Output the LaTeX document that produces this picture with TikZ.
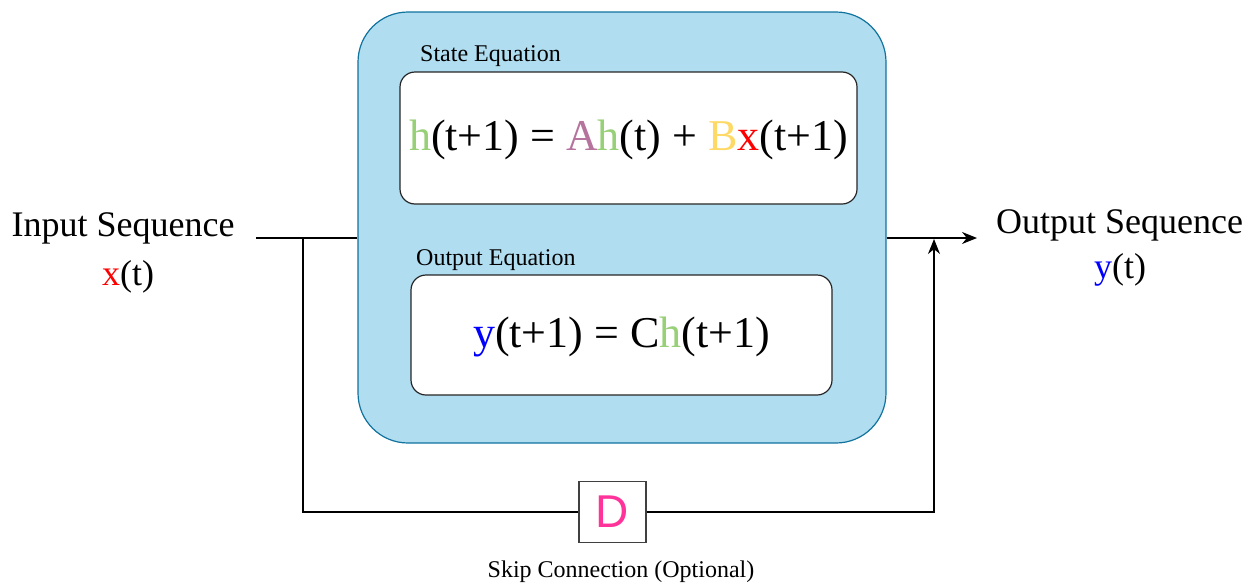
\documentclass[tikz,border=0pt]{standalone}
\usepackage{fontspec}
\setmainfont{Liberation Serif}
\newfontfamily\dfont{Liberation Sans}
\usetikzlibrary{arrows.meta,positioning}

\definecolor{hgreen}{HTML}{97D077}
\definecolor{apurple}{HTML}{B5739D}
\definecolor{byellow}{HTML}{FFD966}
\definecolor{xred}{HTML}{FF0000}
\definecolor{yblue}{HTML}{0000FF}
\definecolor{dpink}{HTML}{FF3399}
\definecolor{ssmfill}{HTML}{B1DDF0}
\definecolor{ssmdraw}{HTML}{10739E}

\tikzset{
  eqbox/.style={draw=black!85,fill=white,rounded corners=15pt,line width=1.2pt,inner sep=0pt},
  biglabel/.style={font=\fontsize{36}{40}\selectfont,inner sep=0pt},
  eqtext/.style={font=\fontsize{44}{48}\selectfont},
  smalllabel/.style={font=\fontsize{24}{28}\selectfont,inner sep=0pt},
  wire/.style={line width=1.2pt,black}
}

\begin{document}
\begin{tikzpicture}[x=1pt,y=-1pt,>={Stealth[length=15pt,width=12pt]}]
  \useasboundingbox (0,0) rectangle (1256,584);
  % state space block
  \node[draw=ssmdraw,fill=ssmfill,line width=1.2pt,rounded corners=50pt,minimum width=528pt,minimum height=431pt] (ssm) at (622,227.5) {};
  \node[eqbox,minimum width=457pt,minimum height=132pt] (state) at (628.5,138) {};
  \node[eqtext] at ([yshift=-2pt]state) {\textcolor{hgreen}{h}(t+1) = \textcolor{apurple}{A}\textcolor{hgreen}{h}(t) + \textcolor{byellow}{B}\textcolor{xred}{x}(t+1)};
  \node[eqbox,minimum width=421pt,minimum height=120pt] (outeq) at (621.5,335) {};
  \node[eqtext] at ([yshift=-2pt]outeq) {\textcolor{yblue}{y}(t+1) = C\textcolor{hgreen}{h}(t+1)};
  \node[smalllabel,anchor=west] (statelab) at (420,56) {State Equation};
  \node[smalllabel,anchor=west] (outlab) at (416,260) {Output Equation};
  % outside labels
  \node[biglabel] (inlab) at (123,228) {Input Sequence};
  \node[biglabel] (xlab) at (128,277) {\textcolor{xred}{x}(t)};
  \node[biglabel] (outseq) at (1119.5,225) {Output Sequence};
  \node[biglabel] (ylab) at (1120,270) {\textcolor{yblue}{y}(t)};
  % skip connection
  \node[draw=black!75,fill=white,line width=1.2pt,minimum width=67pt,minimum height=61pt,font=\dfont\fontsize{46}{50}\selectfont,text=dpink] (dbox) at (612.5,512) {D};
  \node[smalllabel] (skiplab) at (621,572) {Skip Connection (Optional)};
  \coordinate (in) at (256,238);
  \coordinate (split) at (303,238);
  \coordinate (join) at (934,239);
  \coordinate (outend) at (977,238);
  \draw[wire] (in) -- (in -| ssm.west);
  \draw[wire,->] (in -| ssm.east) -- (outend);
  \draw[wire] (split) |- (dbox.west);
  \draw[wire,->] (dbox.east) -| (join);
\end{tikzpicture}
\end{document}
